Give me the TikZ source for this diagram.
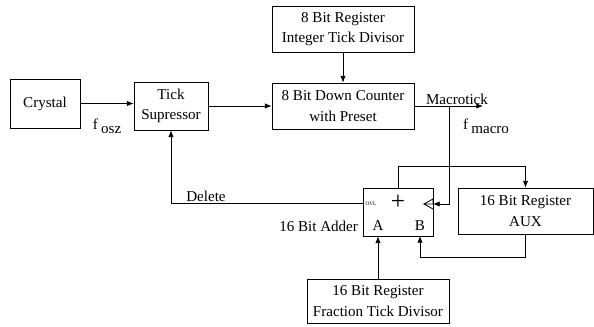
\documentclass[tikz,border=0pt]{standalone}
\usepackage{fontspec}
\setmainfont{Liberation Serif}
\usetikzlibrary{arrows.meta}
\begin{document}
\begin{tikzpicture}[x=0.75pt, y=-0.75pt, line width=0.6pt,
  font=\fontsize{11.3}{15.5}\selectfont,
  >={Latex[length=5pt,width=4pt]},
  block/.style={draw, align=center, inner sep=0pt}]
  \useasboundingbox (0,0) rectangle (594,327);
  \node[block, minimum width=52.5pt, minimum height=36.75pt] (crystal) at (45,103.5) {Crystal};
  \node[block, minimum width=55.5pt, minimum height=36pt] (tick) at (171,106) {Tick\\Supressor};
  \node[block, minimum width=106.5pt, minimum height=34.5pt] (intreg) at (343,29) {8 Bit Register\\Integer Tick Divisor};
  \node[block, minimum width=106.5pt, minimum height=34.5pt] (counter) at (343,106) {8 Bit Down Counter\\with Preset};
  \node[block, minimum width=52.5pt, minimum height=36pt] (adder) at (398,212) {};
  \node[block, minimum width=101.25pt, minimum height=34.5pt] (aux) at (525.5,211) {16 Bit Register\\AUX};
  \node[block, minimum width=106.5pt, minimum height=33pt] (fracreg) at (378,301) {16 Bit Register\\Fraction Tick Divisor};
  \coordinate (mtend) at (483,106);
  \coordinate (split) at (449,106);
  \coordinate (clk) at (433,204);
  \coordinate (ovl) at (363,203);
  \coordinate (bin) at (420,236);
  % adder inside
  \node[font=\fontsize{19}{19}\selectfont] (plus) at (398,202) {+};
  \node[font=\fontsize{4}{4}\selectfont] (ovltxt) at (371,204) {OVL};
  \node (atxt) at (378,226) {A};
  \node (btxt) at (420,226) {B};
  \draw (clk) -- (424,204) -- (433,209);
  \draw (clk) -- (433,199) -- (424,204);
  % connections
  \draw[->] (crystal) -- (crystal -| tick.west);
  \draw[->] (tick) -- (tick -| counter.west);
  \draw[->] (intreg) -- (counter);
  \draw[->] (counter.east) -- (mtend);
  \draw[->] (split) |- (clk);
  \draw[->] (ovl) -| (tick.south);
  \draw[->] (adder.north) -- ++(0,-21) -| (aux.north);
  \draw[->] (aux.south) -- ++(0,23) -| (bin);
  \draw[->] (fracreg.north) -- (fracreg.north |- adder.south);
  % labels
  \node (fosz) at (107,126) {f\hspace{2.5pt}\raisebox{-3pt}{osz}};
  \node (fmacro) at (486,126) {f\hspace{2.5pt}\raisebox{-3pt}{macro}};
  \node[anchor=south, inner sep=1pt] (mtlabel) at (457,106) {Macrotick};
  \node[anchor=south, inner sep=1pt] (dellabel) at (206,203) {Delete};
  \node[anchor=east, inner sep=2pt] (addlabel) at (361,226) {16 Bit Adder};
\end{tikzpicture}
\end{document}
